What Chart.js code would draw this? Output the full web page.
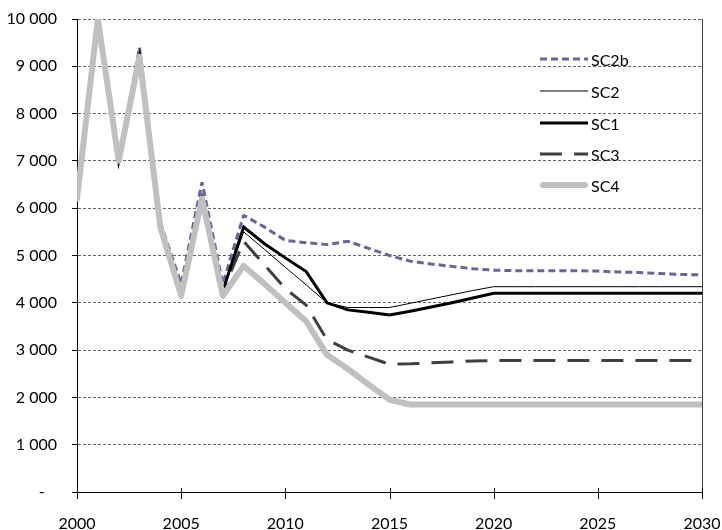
<!DOCTYPE html>
<html>
<head>
<meta charset="utf-8">
<script src="https://cdn.jsdelivr.net/npm/chart.js@4"></script>
<style>
html,body{margin:0;padding:0;background:#fff;}
#wrap{width:722px;height:530px;position:relative;}
</style>
</head>
<body>
<div id="wrap"><canvas id="c"></canvas></div>
<script>
const years = [2000,2001,2002,2003,2004,2005,2006,2007,2008,2009,2010,2011,2012,2013,2014,2015,2016,2017,2018,2019,2020,2021,2022,2023,2024,2025,2026,2027,2028,2029,2030];
const xTickValues = [2000,2005,2010,2015,2020,2025,2030];
const yTickValues = [0,1000,2000,3000,4000,5000,6000,7000,8000,9000,10000];
const seriesNames = ['SC2b','SC2','SC1','SC3','SC4'];

const sc2b = [6200,10000,7000,9400,5700,4400,6550,4400,5850,5600,5320,5270,5230,5300,5150,5000,4880,4820,4770,4720,4690,4680,4680,4680,4680,4670,4650,4640,4620,4600,4590];
const sc2  = [6200,10000,7000,9200,5600,4200,6200,4250,5500,5130,4750,4380,4000,3900,3900,3900,3990,4080,4170,4260,4340,4340,4340,4340,4340,4340,4340,4340,4340,4340,4340];
const sc1  = [6200,10000,7000,9200,5600,4200,6200,4250,5600,5250,4950,4660,4000,3850,3800,3740,3820,3910,4000,4100,4200,4200,4200,4200,4200,4200,4200,4200,4200,4200,4200];
const sc3  = [6200,10000,7000,9200,5600,4200,6200,4250,5300,4800,4300,3950,3220,3000,2850,2700,2710,2730,2750,2770,2780,2780,2780,2780,2780,2780,2780,2780,2780,2780,2780];
const sc4  = [6200,10000,7000,9200,5600,4150,6200,4150,4780,4400,4000,3610,2900,2600,2270,1950,1850,1850,1850,1850,1850,1850,1850,1850,1850,1850,1850,1850,1850,1850,1850];

const pts = arr => arr.map((v,i)=>({x:years[i], y:v}));

const styles = {
  SC2b:{color:'#66669c', width:3, dash:[7,4], order:4, cap:'butt', join:'bevel'},
  SC2:{color:'#000000', width:1, dash:[], order:2, cap:'butt', join:'miter'},
  SC1:{color:'#000000', width:3, dash:[], order:1, cap:'butt', join:'miter'},
  SC3:{color:'#404040', width:3, dash:[22,12], order:3, cap:'butt', join:'bevel'},
  SC4:{color:'#c0c0c0', width:6, dash:[], order:0, cap:'round', join:'round'}
};
const seriesData = {SC2b:sc2b, SC2:sc2, SC1:sc1, SC3:sc3, SC4:sc4};

function fmt(v){
  if (v === 0) return '-   ';
  const th = Math.floor(v/1000), r = v % 1000;
  return th > 0 ? th + ' ' + String(r).padStart(3,'0') : String(r);
}

Chart.defaults.font.family = 'Lato, "Open Sans", sans-serif';
Chart.defaults.font.size = 16;
Chart.defaults.color = '#000';

const extras = {
  id:'extras',
  afterDraw(chart){
    const ctx = chart.ctx, a = chart.chartArea, xs = chart.scales.x;
    ctx.save();
    ctx.strokeStyle = '#404040'; ctx.lineWidth = 1; ctx.setLineDash([]);
    ctx.beginPath(); ctx.moveTo(Math.round(a.right)+0.5, a.top); ctx.lineTo(Math.round(a.right)+0.5, a.bottom); ctx.stroke();
    ctx.strokeStyle = '#000';
    xTickValues.forEach(v=>{
      const px = Math.round(xs.getPixelForValue(v))+0.5;
      ctx.beginPath(); ctx.moveTo(px, a.bottom-4); ctx.lineTo(px, a.bottom+7); ctx.stroke();
    });
    const lx1 = 540, lx2 = 588, ys = [59,91,123,154,185];
    seriesNames.forEach((n,i)=>{
      const s = styles[n];
      ctx.strokeStyle = s.color; ctx.lineWidth = s.width; ctx.setLineDash(s.dash); ctx.lineCap = s.cap;
      ctx.beginPath(); ctx.moveTo(lx1 + (s.cap==='round'?3:0), ys[i]); ctx.lineTo(lx2 - (s.cap==='round'?3:0), ys[i]); ctx.stroke();
      ctx.setLineDash([]);
      ctx.fillStyle = '#000'; ctx.font = '16px Lato, "Open Sans", sans-serif';
      ctx.textBaseline = 'middle'; ctx.textAlign = 'left';
      ctx.fillText(n, 591, ys[i]+2);
    });
    ctx.restore();
  }
};

new Chart(document.getElementById('c'), {
  type:'line',
  data:{
    datasets: seriesNames.map(n=>({
      label:n,
      data: pts(seriesData[n]),
      borderColor: styles[n].color,
      borderWidth: styles[n].width,
      borderDash: styles[n].dash,
      borderCapStyle: styles[n].cap,
      borderJoinStyle: styles[n].join,
      pointRadius:0,
      fill:false,
      tension:0,
      order: styles[n].order
    }))
  },
  options:{
    responsive:true,
    maintainAspectRatio:false,
    animation:false,
    layout:{padding:0},
    plugins:{legend:{display:false}, tooltip:{enabled:false}},
    scales:{
      x:{
        type:'linear', min:2000, max:2030,
        afterFit(s){ s.height = 38; s.paddingLeft = 0; s.paddingRight = 20; },
        afterBuildTicks(s){ s.ticks = xTickValues.map(v=>({value:v})); },
        ticks:{callback:v=>String(v), padding:0, maxRotation:0, autoSkip:false},
        grid:{display:true, drawOnChartArea:false, drawTicks:true, tickLength:22, tickColor:'rgba(0,0,0,0)'},
        border:{display:true, color:'#000', width:1}
      },
      y:{
        type:'linear', min:0, max:10000,
        afterFit(s){ s.width = 77; s.paddingTop = 19; s.paddingBottom = 0; },
        afterBuildTicks(s){ s.ticks = yTickValues.map(v=>({value:v})); },
        ticks:{callback:v=>fmt(v), padding:15},
        grid:{color:'#666', lineWidth:1, tickLength:5, tickColor:'#000', tickBorderDash:[]},
        border:{display:true, color:'#000', width:1, dash:[3,2]}
      }
    }
  },
  plugins:[extras]
});
</script>
</body>
</html>
